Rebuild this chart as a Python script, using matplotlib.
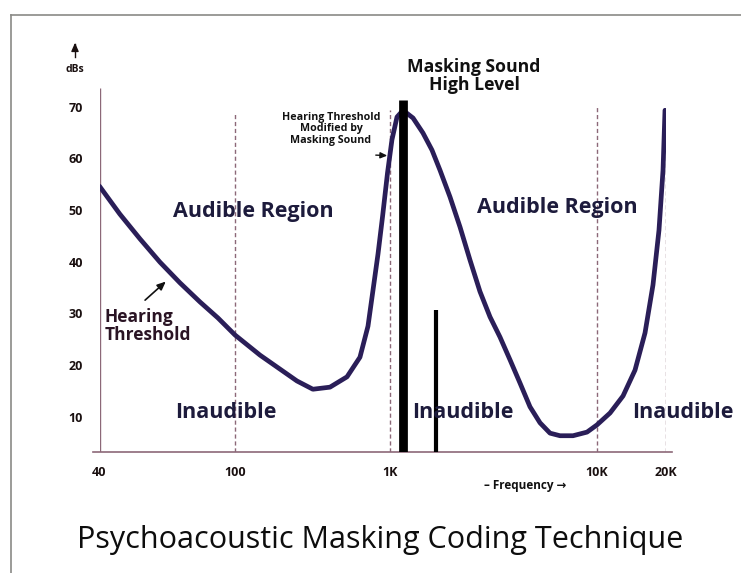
import numpy as np
import matplotlib
matplotlib.use("Agg")
import matplotlib.pyplot as plt

plt.rcParams["font.family"] = ["Open Sans", "DejaVu Sans"]

# hearing threshold of the ear while a loud tone is playing near 1 kHz
freq_hz = [40, 45.9, 52.6, 60.2, 68.9, 78.9, 89.1, 100, 145, 195, 251, 318, 410, 528,
           640, 721, 777, 837, 895, 964, 1022, 1081, 1156, 1292, 1443, 1595, 1744,
           1950, 2179, 2435, 2721, 3042, 3399, 3799, 4246, 4746, 5305, 5929, 6626,
           7659, 8948, 10000, 11400, 12990, 14650, 16200, 17550, 18640, 19410, 19800]
threshold_db = [54.6, 49.2, 44.4, 39.9, 35.9, 32.2, 29.1, 25.8, 21.9, 19.2, 16.9, 15.3,
                15.7, 17.7, 21.5, 27.5, 34.5, 41.5, 48.7, 57.2, 63.6, 68.0, 69.3, 67.8,
                64.9, 61.6, 57.7, 52.5, 46.7, 40.3, 34.2, 29.3, 25.4, 21.0, 16.5, 11.9,
                8.8, 6.8, 6.3, 6.3, 7.0, 8.4, 10.7, 14.0, 19.0, 26.2, 35.5, 46.1, 57.7,
                69.3]

# loud masking tone and a quieter tone hidden under the raised threshold
masker_hz, masker_db = 1160, 71.3
masked_hz, masked_db = 1660, 30.6

# printed frequency axis: labels and where they sit (uneven decade spacing)
axis_freqs = [40, 100, 1000, 10000, 20000]
axis_labels = ["40", "100", "1K", "10K", "20K"]
axis_pos = [0.0, 135.5, 290.5, 497.5, 566.5]
guide_tops = [73.6, 68.8, 69.3, 70.0, 68.0]
db_ticks = [10, 20, 30, 40, 50, 60, 70]

W, H = 741, 573
DB_MIN, DB_MAX = 3.15, 82.9


def fxy(x, y):
    """pixel position -> figure fraction"""
    return x / W, 1 - y / H


def fwd(f):
    f = np.clip(np.asarray(f, dtype=float), 1e-6, None)
    return np.interp(np.log10(f), np.log10(axis_freqs), axis_pos)


def inv(p):
    return 10 ** np.interp(p, axis_pos, np.log10(axis_freqs))


fig = plt.figure(figsize=(W / 100, H / 100), dpi=100)
fig.patch.set_facecolor("white")

# page frame (top and left edges)
fig.add_artist(plt.Line2D([11 / W, 1], [1 - 15 / H] * 2, color="#8a8a86", lw=1.2))
fig.add_artist(plt.Line2D([11 / W] * 2, [0, 1 - 15 / H], color="#8a8a86", lw=1.2))

ax = fig.add_axes([99.5 / W, 1 - 452 / H, (666 - 99.5) / W, (452 - 40) / H])
ax.set_xscale("function", functions=(fwd, inv))
ax.set_xlim(axis_freqs[0], axis_freqs[-1])
ax.set_ylim(DB_MIN, DB_MAX)
for s in ax.spines.values():
    s.set_visible(False)
ax.patch.set_alpha(0)

guide_col = "#8c6878"
ax.vlines(axis_freqs[0], DB_MIN, guide_tops[0], color=guide_col, lw=1.0)
ax.vlines(axis_freqs[1:], DB_MIN, guide_tops[1:], color=guide_col, lw=1.0,
          linestyles=(0, (3, 2)))
ax.axhline(DB_MIN, xmin=-0.011, xmax=1.011, color=guide_col, lw=1.2, clip_on=False)

ax.plot(freq_hz, threshold_db, color="#2a1e58", lw=3.4,
        solid_capstyle="round", solid_joinstyle="round", zorder=3)
ax.vlines(masker_hz, DB_MIN, masker_db, color="black", lw=6.3, zorder=4)
ax.vlines(masked_hz, DB_MIN, masked_db, color="black", lw=3.0, zorder=4)

ax.set_xticks(axis_freqs, axis_labels)
ax.xaxis.set_minor_locator(plt.NullLocator())
ax.set_yticks(db_ticks)
ax.tick_params(axis="x", length=0, pad=10, labelsize=9, colors="#1a1010")
ax.tick_params(axis="y", length=0, pad=12, labelsize=9, colors="#1a1010")
for lab in ax.get_xticklabels() + ax.get_yticklabels():
    lab.set_fontweight("bold")

region_col = "#1d1b3c"
for x, y, s in [(253, 211, "Audible Region"), (557, 208, "Audible Region"),
                (226, 412, "Inaudible"), (463, 412, "Inaudible"), (683, 412, "Inaudible")]:
    fig.text(*fxy(x, y), s, ha="center", va="center", fontsize=15.5,
             fontweight="bold", color=region_col)

# y-axis caption with arrow
fig.text(*fxy(75, 70), "dBs", ha="center", va="center", fontsize=7.5,
         fontweight="bold", color="#1a1010")
fig.add_artist(plt.Line2D([75 / W] * 2, [1 - 57 / H, 1 - 44 / H], color="#1a1010", lw=1.0))
ax.annotate("", xy=fxy(75, 40), xytext=fxy(75, 50), xycoords="figure fraction",
            textcoords="figure fraction",
            arrowprops=dict(arrowstyle="-|>,head_length=0.5,head_width=0.22",
                            color="#1a1010", lw=1.0))

fig.text(*fxy(474, 76), "Masking Sound\nHigh Level", ha="center", va="center",
         fontsize=12.7, fontweight="bold", color="#111111", linespacing=1.0)

fig.text(*fxy(331, 129), "Hearing Threshold\nModified by\nMasking Sound", ha="center",
         va="center", fontsize=7.7, fontweight="bold", color="#111111", linespacing=1.1)
ax.annotate("", xy=(1000, 60.5), xytext=fxy(373, 155), textcoords="figure fraction",
            arrowprops=dict(arrowstyle="-|>,head_length=0.4,head_width=0.18",
                            color="#111111", lw=1.0))

fig.text(*fxy(105, 326), "Hearing\nThreshold", ha="left", va="center", fontsize=12.5,
         fontweight="bold", color="#2a1424", linespacing=1.0)
ax.annotate("", xy=(63.5, 36.5), xytext=fxy(143, 302), textcoords="figure fraction",
            arrowprops=dict(arrowstyle="-|>,head_length=0.5,head_width=0.22",
                            color="#111111", lw=1.2))

fig.text(*fxy(525, 485), "– Frequency →", ha="center", va="center", fontsize=8.5,
         fontweight="bold", color="#111111")

fig.text(*fxy(380, 540), "Psychoacoustic Masking Coding Technique", ha="center",
         va="center", fontsize=22, color="#0d0d0d")

fig.savefig("out.png", dpi=100, facecolor="white")
